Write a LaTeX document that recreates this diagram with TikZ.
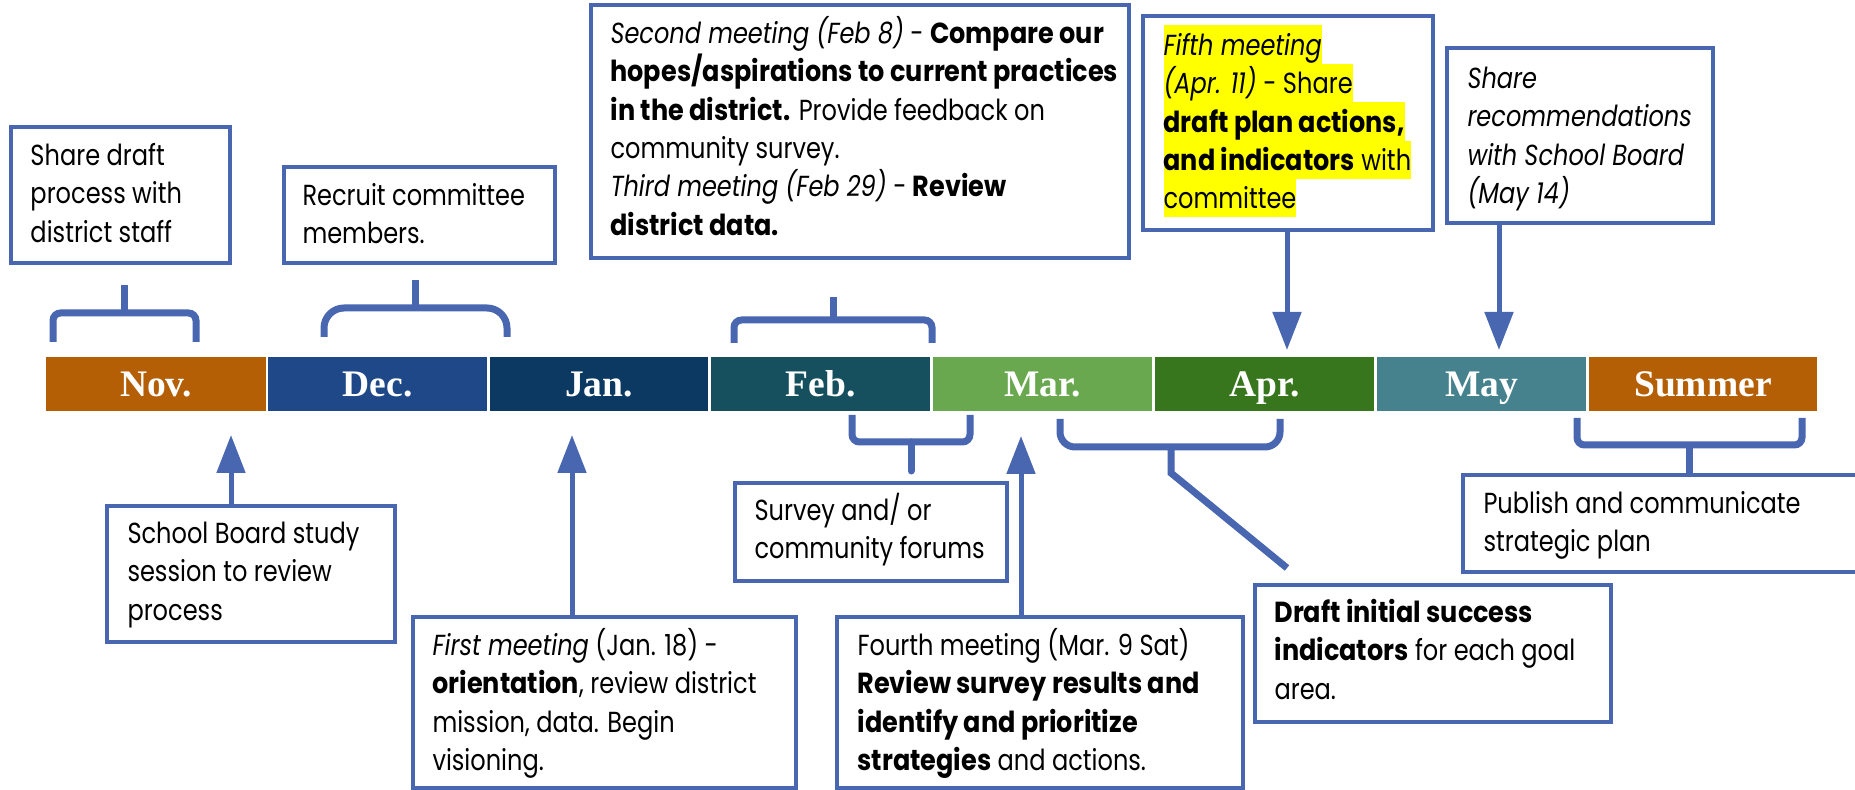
\documentclass[tikz,border=0pt]{standalone}
\usepackage{fontspec}
\setmainfont{Poppins}[FakeStretch=0.83, BoldFeatures={FakeStretch=0.88}, BoldItalicFeatures={FakeStretch=0.88}]
\newfontfamily\mfont{Liberation Serif}
\usetikzlibrary{fit,arrows.meta}
\definecolor{bl}{RGB}{72,103,176}
\definecolor{novc}{RGB}{180,95,6}
\definecolor{decc}{RGB}{31,72,137}
\definecolor{janc}{RGB}{12,57,98}
\definecolor{febc}{RGB}{22,80,94}
\definecolor{marc}{RGB}{106,168,79}
\definecolor{aprc}{RGB}{56,118,30}
\definecolor{mayc}{RGB}{70,130,142}
\definecolor{hly}{RGB}{255,255,0}
\newcommand\fl{\rule{0pt}{12pt}}
\newcommand\hlt[1]{{\setlength{\fboxsep}{0pt}\colorbox{hly}{\rule[-3.35pt]{0pt}{15.35pt}#1}}}
\begin{document}
\begin{tikzpicture}[x=0.4pt,y=-0.4pt,
  box/.style={draw=bl, line width=1.3pt, inner sep=0pt},
  month/.style={inner sep=0pt, draw=none},
  mlab/.style={anchor=base, text=white, inner sep=0pt, font=\mfont\bfseries\fontsize{15}{18}\selectfont},
  txt/.style={anchor=north west, inner sep=0pt, align=left, font=\fontsize{11.6}{15.35}\selectfont},
  brk/.style={draw=bl, line width=2.8pt, rounded corners=3pt},
  arr/.style={draw=bl, line width=2pt, -{Triangle[width=11.2pt,length=15.2pt]}}
]
\useasboundingbox (0,0) rectangle (1855,790);
\clip (0,0) rectangle (1855,790);

% month bar
\node[month, fill=novc, fit={(46,357) (266,411)}] (nov) {};
\node[month, fill=decc, fit={(268,357) (487,411)}] (dec) {};
\node[month, fill=janc, fit={(490,357) (708,411)}] (jan) {};
\node[month, fill=febc, fit={(711,357) (930,411)}] (feb) {};
\node[month, fill=marc, fit={(933,357) (1152,411)}] (mar) {};
\node[month, fill=aprc, fit={(1155,357) (1374,411)}] (apr) {};
\node[month, fill=mayc, fit={(1377,357) (1586,411)}] (may) {};
\node[month, fill=novc, fit={(1589,357) (1817,411)}] (sum) {};
\coordinate (lb) at (0,397);
\node[mlab] (novl) at (nov.center |- lb) {Nov.};
\node[mlab] (decl) at (dec.center |- lb) {Dec.};
\node[mlab] (janl) at (jan.center |- lb) {Jan.};
\node[mlab] (febl) at (feb.center |- lb) {Feb.};
\node[mlab] (marl) at (mar.center |- lb) {Mar.};
\node[mlab] (aprl) at (apr.center |- lb) {Apr.};
\node[mlab] (mayl) at (may.center |- lb) {May};
\node[mlab] (suml) at (sum.center |- lb) {Summer};

% boxes
\node[box, fit={(11,127) (230,263)}] (sdraft) {};
\node[box, fit={(284,167) (555,263)}] (recr) {};
\node[box, fit={(591,5) (1129,258)}] (second) {};
\node[box, fit={(1143,16) (1433,230)}] (fifth) {};
\node[box, fit={(1447,48) (1713,223)}] (srec) {};
\node[box, fit={(107,506) (395,642)}] (sboard) {};
\node[box, fit={(413,617) (796,788)}] (first) {};
\node[box, fit={(735,483) (1007,581)}] (survey) {};
\node[box, fit={(837,617) (1243,788)}] (fourth) {};
\node[box, fit={(1255,585) (1611,722)}] (dind) {};
\node[box, fit={(1463,475) (1880,572)}] (pub) {};

% texts
\node[txt] (t1) at (30,135) {\fl Share draft\\ process with\\ district staff};
\node[txt] (t2) at (302,175) {\fl Recruit committee\\ members.};
\node[txt] (t3) at (610,13) {\fl\textit{Second meeting (Feb 8)} - \textbf{Compare our}\\ \textbf{hopes/aspirations to current practices}\\ \textbf{in the district.} Provide feedback on\\ community survey.\\ \textit{Third meeting (Feb 29)} - \textbf{Review}\\ \textbf{district data.}};
\node[txt] (t4) at (1163,25) {\hlt{\textit{Fifth meeting}}\\ \hlt{\textit{(Apr. 11)} - Share}\\ \hlt{\textbf{draft plan actions,}}\\ \hlt{\textbf{and indicators} with}\\ \hlt{committee}};
\node[txt, font=\fontsize{11.6}{15.35}\selectfont\itshape] (t5) at (1467,58) {\fl Share\\ recommendations\\ with School Board\\ (May 14)};
\node[txt] (t6) at (127,513) {\fl School Board study\\ session to review\\ process};
\node[txt] (t7) at (432,625) {\fl\textit{First meeting} (Jan. 18) -\\ \textbf{orientation}, review district\\ mission, data. Begin\\ visioning.};
\node[txt] (t8) at (754,490) {\fl Survey and/ or\\ community forums};
\node[txt] (t9) at (857,625) {\fl Fourth meeting (Mar. 9 Sat)\\ \textbf{Review survey results and}\\ \textbf{identify and prioritize}\\ \textbf{strategies} and actions.};
\node[txt] (t10) at (1274,592) {\fl\textbf{Draft initial success}\\ \textbf{indicators} for each goal\\ area.};
\node[txt] (t11) at (1483,483) {\fl Publish and communicate\\ strategic plan};

% brackets
\draw[brk] (53,342) -- (53,313) -- (196,313) -- (196,342);
\draw[brk] (124,313) -- (124,285);
\draw[brk, rounded corners=8pt] (324,337) -- (324,308) -- (507,308) -- (507,337);
\draw[brk] (415,308) -- (415,280);
\draw[brk] (734,343) -- (734,320) -- (932,320) -- (932,343);
\draw[brk] (833,320) -- (833,297);
\draw[brk] (852,415) -- (852,442) -- (970,442) -- (970,415);
\coordinate (svt) at (911,471);
\draw[brk, line cap=round] (911,442) -- (svt);
\draw[brk, rounded corners=6pt] (1060,419) -- (1060,447) -- (1280,447) -- (1280,419);
\coordinate (dit) at (1287,568);
\draw[brk, rounded corners=0pt] (1171,447) -- (1171,473) -- (dit);
\draw[brk] (1577,418) -- (1577,445) -- (1802,445) -- (1802,418);
\coordinate (sst) at (1689,445);
\draw[brk] (sst) -- (sst |- pub.north);

% arrows
\coordinate (a1) at (231,435);
\coordinate (a2) at (572,435);
\coordinate (a3) at (1021,436);
\coordinate (a4) at (1287,350);
\coordinate (a5) at (1499,350);
\draw[arr] (sboard.north -| a1) -- (a1);
\draw[arr] (first.north -| a2) -- (a2);
\draw[arr] (fourth.north -| a3) -- (a3);
\draw[arr] (fifth.south -| a4) -- (a4);
\draw[arr] (srec.south -| a5) -- (a5);
\end{tikzpicture}
\end{document}
